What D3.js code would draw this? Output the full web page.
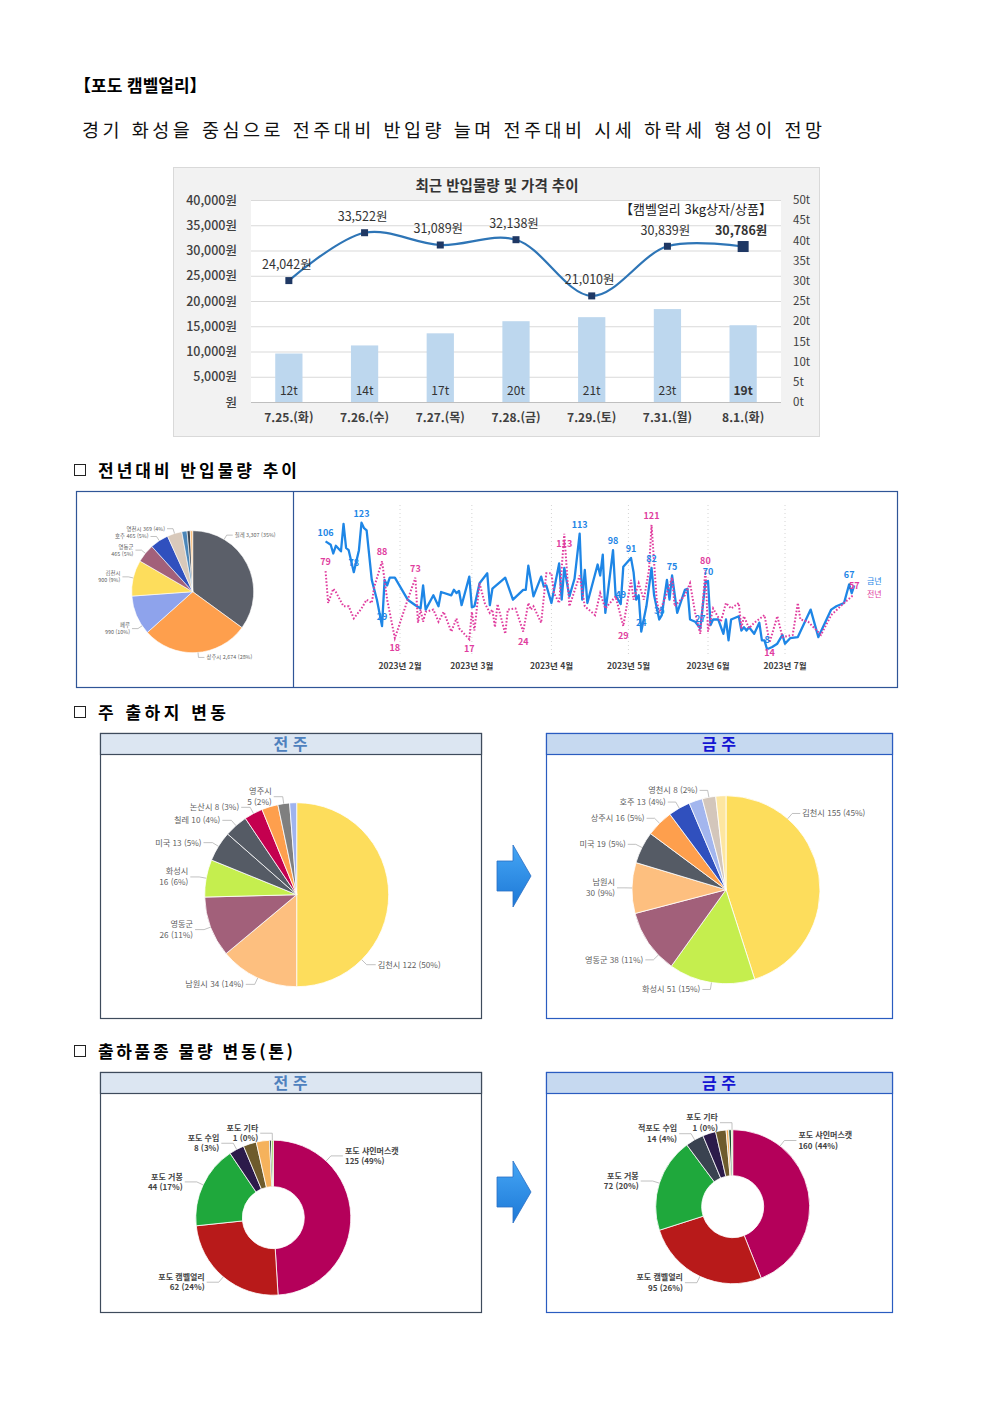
<!DOCTYPE html>
<html lang="ko">
<head>
<meta charset="utf-8">
<title>포도 캠벨얼리</title>
<script src="https://cdn.jsdelivr.net/npm/d3@7"></script>
<style>
  body { margin: 0; background: #fff; }
  svg { display: block; font-family: "Noto Sans CJK KR", "Noto Sans", sans-serif; }
</style>
</head>
<body>
<script>
// ---------- data ----------
// 최근 반입물량 및 가격 추이
const days = ["7.25.(화)", "7.26.(수)", "7.27.(목)", "7.28.(금)", "7.29.(토)", "7.31.(월)", "8.1.(화)"];
const volumes = [12, 14, 17, 20, 21, 23, 19];                        // 톤
const prices = [24042, 33522, 31089, 32138, 21010, 30839, 30786];    // 원
const priceTicks = [0, 5000, 10000, 15000, 20000, 25000, 30000, 35000, 40000];
const volumeTicks = [0, 5, 10, 15, 20, 25, 30, 35, 40, 45, 50];

// 전년대비 반입물량 - 원산지별
const yearOrigins = ["칠레", "상주시", "페루", "김천시", "영동군", "호주", "영천시", "기타1", "기타2", "기타3"];
const yearOriginValues = [3307, 2674, 990, 900, 465, 465, 369, 130, 80, 60];
const yearOriginPcts = [35, 28, 10, 9, 5, 5, 4, null, null, null];

// 전년대비 반입물량 추이 (일별, 톤)
const thisYearDates = ["01-03","01-05","01-06","01-07","01-09","01-10","01-11","01-12","01-14","01-16","01-17","01-18","01-19","01-21","01-23","01-25","01-26","01-27","01-28","01-30",
  "02-04","02-07","02-09","02-10","02-11","02-14","02-16","02-17","02-21","02-22","02-23","02-24","02-25","02-28",
  "03-01","03-02","03-04","03-07","03-08","03-09","03-13","03-14","03-17","03-21","03-22","03-23","03-25","03-28","03-29","03-30",
  "04-01","04-04","04-05","04-06","04-08","04-10","04-12","04-13","04-14","04-15","04-19","04-20","04-21","04-22","04-25","04-26","04-28","04-29",
  "05-02","05-03","05-04","05-05","05-06","05-08","05-10","05-11","05-13","05-14","05-16","05-17","05-18","05-20","05-23","05-24","05-25","05-27","05-29","05-31",
  "06-01","06-02","06-03","06-05","06-07","06-08","06-09","06-10","06-13","06-14","06-15","06-16","06-17","06-19","06-21","06-22","06-23","06-24","06-26","06-28","06-30",
  "07-01","07-03","07-06","07-11","07-14","07-19","07-21","07-24","07-26","07-27","07-28"];
const thisYearValues = [106,103,95,102,97,122,100,98,78,98,123,118,116,71,53,29,71,66,73,73,
  53,48,45,66,44,57,47,60,57,62,59,61,48,74,
  46,47,68,77,48,63,71,73,53,62,62,84,56,74,65,66,
  50,86,53,82,56,72,113,53,80,50,85,75,94,41,98,57,49,83,
  91,78,53,57,24,47,82,57,35,39,71,53,75,41,62,63,35,33,27,69,
  70,30,35,35,22,35,16,35,38,25,28,25,28,22,32,16,16,8,10,13,21,
  13,18,19,44,19,44,47,50,67,59,66];
const lastYearDates = ["01-03","01-04","01-06","01-07","01-10","01-12","01-14","01-17","01-19","01-21","01-22","01-25","01-27","01-30",
  "02-04","02-07","02-08","02-09","02-10","02-11","02-14","02-16","02-18","02-21","02-23","02-24","02-28",
  "03-01","03-02","03-04","03-06","03-08","03-09","03-10","03-11","03-14","03-15","03-18","03-21","03-23","03-24","03-25","03-28","03-30",
  "04-01","04-02","04-04","04-06","04-07","04-08","04-12","04-14","04-18","04-20","04-22","04-26","04-29",
  "05-02","05-03","05-05","05-07","05-09","05-10","05-12","05-13","05-16","05-18","05-19","05-23","05-25","05-27","05-29","05-31",
  "06-01","06-03","06-06","06-08","06-10","06-13","06-14","06-15","06-17","06-19","06-23","06-25","06-28","06-30",
  "07-04","07-06","07-07","07-10","07-15","07-19","07-24","07-27","07-28"];
const lastYearValues = [79,50,63,60,47,47,36,45,53,50,65,88,53,18,
  53,73,32,44,33,42,44,33,42,24,36,27,17,
  42,25,68,50,41,44,28,49,22,44,45,24,50,44,47,32,77,
  77,59,50,113,80,47,75,47,39,59,45,56,29,
  71,53,68,53,80,121,53,41,59,73,47,57,68,41,22,80,
  24,45,33,50,45,50,27,38,27,32,39,14,38,19,
  21,50,35,33,21,39,50,56,57];
const thisYearLabelDates = ["01-03","01-14","01-17","01-25","04-12","04-25","04-28","05-02","05-06","05-10","05-13","05-18","05-29","06-01","06-24","07-26"];
const lastYearLabelDates = ["01-03","01-25","01-30","02-07","02-28","03-21","04-06","04-29","05-10","05-31","06-25","07-28"];

// 주 출하지 변동 (톤)
const prevOrigins = ["김천시", "남원시", "영동군", "화성시", "미국", "칠레", "논산시", "기타1", "영주시", "기타2"];
const prevOriginValues = [122, 34, 26, 16, 13, 10, 8, 7, 5, 3];
const prevOriginPcts = [50, 14, 11, 6, 5, 4, 3, null, 2, null];
const curOrigins = ["김천시", "화성시", "영동군", "남원시", "미국", "상주시", "호주", "기타1", "영천시", "기타2"];
const curOriginValues = [155, 51, 38, 30, 19, 16, 13, 8, 8, 6];
const curOriginPcts = [45, 15, 11, 9, 5, 5, 4, null, 2, null];

// 출하품종 물량 변동 (톤)
const prevKinds = ["포도 샤인머스캣", "포도 캠벨얼리", "포도 거봉", "포도 수입", "기타1", "기타2", "기타3", "포도 기타"];
const prevKindValues = [125, 62, 44, 8, 7, 7, 1, 1];
const prevKindPcts = [49, 24, 17, 3, null, null, null, 0];
const curKinds = ["포도 샤인머스캣", "포도 캠벨얼리", "포도 거봉", "적포도 수입", "기타1", "기타2", "기타3", "기타4", "포도 기타"];
const curKindValues = [160, 95, 72, 14, 10, 8, 2, 2, 1];
const curKindPcts = [44, 26, 20, 4, null, null, null, null, 0];

// ---------- page ----------
const W = 992, H = 1403;
const FONT = '"Noto Sans CJK KR", "Noto Sans", sans-serif';
const svg = d3.select("body").append("svg").attr("width", W).attr("height", H);
svg.append("rect").attr("width", W).attr("height", H).attr("fill", "#fff");

svg.append("text").attr("x", 74).attr("y", 92).attr("font-size", 17).attr("font-weight", "bold")
  .text("【포도 캠벨얼리】");
svg.append("text").attr("x", 82).attr("y", 137).attr("font-size", 18.5)
  .attr("textLength", 740).attr("lengthAdjust", "spacing").attr("fill", "#111")
  .text("경기 화성을 중심으로 전주대비 반입량 늘며 전주대비 시세 하락세 형성이 전망");

function heading(y, label, len) {
  svg.append("rect").attr("x", 74.5).attr("y", y - 6.5).attr("width", 11).attr("height", 11)
    .attr("fill", "none").attr("stroke", "#222").attr("stroke-width", 1);
  svg.append("text").attr("x", 98).attr("y", y + 6).attr("font-size", 17).attr("font-weight", "bold")
    .attr("textLength", len).attr("lengthAdjust", "spacing").text(label);
}
heading(471, "전년대비 반입물량 추이", 199);
heading(713, "주 출하지 변동", 128);
heading(1052, "출하품종 물량 변동(톤)", 195);

// ---------- 최근 반입물량 및 가격 추이 ----------
const tc = svg.append("g");
tc.append("rect").attr("x", 173.5).attr("y", 167.5).attr("width", 646).attr("height", 269)
  .attr("fill", "#f2f2f2").attr("stroke", "#d9d9d9");
const P = { l: 251, r: 781, t: 200, b: 402 };
tc.append("rect").attr("x", P.l).attr("y", P.t).attr("width", P.r - P.l).attr("height", P.b - P.t).attr("fill", "#fff");

const xb = d3.scaleBand().domain(days).range([P.l, P.r]).paddingInner(0.64).paddingOuter(0.32);
const yP = d3.scaleLinear().domain([0, 40000]).range([P.b, P.t]);
const yV = d3.scaleLinear().domain([0, 50]).range([P.b, P.t]);
const cx = d => xb(d) + xb.bandwidth() / 2;

tc.append("g").selectAll("line").data(priceTicks).join("line")
  .attr("x1", P.l).attr("x2", P.r).attr("y1", d => yP(d) + 0.5).attr("y2", d => yP(d) + 0.5)
  .attr("stroke", d => d === 0 ? "#bfbfbf" : "#d9d9d9");

const axL = tc.append("g").attr("transform", `translate(${P.l},0)`)
  .call(d3.axisLeft(yP).tickValues(priceTicks).tickSize(0).tickPadding(14)
    .tickFormat(d => d === 0 ? "원" : d3.format(",")(d) + "원"));
const axR = tc.append("g").attr("transform", `translate(${P.r},0)`)
  .call(d3.axisRight(yV).tickValues(volumeTicks).tickSize(0).tickPadding(12).tickFormat(d => d + "t"));
const axB = tc.append("g").attr("transform", `translate(0,${P.b})`)
  .call(d3.axisBottom(xb).tickSize(0).tickPadding(11));
[axL, axR, axB].forEach(a => {
  a.select(".domain").remove();
  a.attr("font-family", FONT);
  a.selectAll("text").attr("fill", "#404040");
});
axL.selectAll("text").attr("font-size", 12.5).attr("font-weight", 500);
axR.selectAll("text").attr("font-size", 11.5);
axB.selectAll("text").attr("font-size", 12).attr("font-weight", 600);

tc.append("g").selectAll("rect").data(volumes).join("rect")
  .attr("x", (d, i) => xb(days[i])).attr("y", d => yV(d))
  .attr("width", xb.bandwidth()).attr("height", d => yV(0) - yV(d)).attr("fill", "#bdd7ee");
tc.append("g").selectAll("text").data(volumes).join("text")
  .attr("x", (d, i) => cx(days[i])).attr("y", yV(0) - 11).attr("dy", "0.35em")
  .attr("text-anchor", "middle").attr("font-size", 12).attr("fill", "#333")
  .attr("font-weight", (d, i) => i === volumes.length - 1 ? "bold" : "normal")
  .text(d => d + "t");

const priceLine = d3.line().x((d, i) => cx(days[i])).y(d => yP(d)).curve(d3.curveCatmullRom.alpha(0.5));
tc.append("path").datum(prices).attr("d", priceLine).attr("fill", "none")
  .attr("stroke", "#2e75b6").attr("stroke-width", 2.2);
tc.append("g").selectAll("rect").data(prices).join("rect")
  .each(function (d, i) {
    const s = i === prices.length - 1 ? 11 : 7;
    d3.select(this).attr("x", cx(days[i]) - s / 2).attr("y", yP(d) - s / 2)
      .attr("width", s).attr("height", s).attr("fill", "#1f3864");
  });
tc.append("g").selectAll("text").data(prices).join("text")
  .attr("x", (d, i) => cx(days[i]) - 2).attr("y", d => yP(d) - 16).attr("dy", "0.35em")
  .attr("text-anchor", "middle").attr("font-size", 12.5).attr("fill", "#333")
  .attr("font-weight", (d, i) => i === prices.length - 1 ? "bold" : "normal")
  .text(d => d3.format(",")(d) + "원");

tc.append("text").attr("x", 497).attr("y", 186).attr("dy", "0.35em").attr("text-anchor", "middle")
  .attr("font-size", 14.5).attr("font-weight", "bold").attr("fill", "#333").text("최근 반입물량 및 가격 추이");
tc.append("text").attr("x", 772).attr("y", 209).attr("dy", "0.35em").attr("text-anchor", "end")
  .attr("font-size", 13).attr("fill", "#222").text("【캠벨얼리 3kg상자/상품】");

// ---------- 전년대비 반입물량 추이 ----------
svg.append("rect").attr("x", 76.5).attr("y", 491.5).attr("width", 821).attr("height", 196)
  .attr("fill", "#fff").attr("stroke", "#2f5597").attr("stroke-width", 1.2);
svg.append("line").attr("x1", 293.5).attr("x2", 293.5).attr("y1", 491.5).attr("y2", 687.5)
  .attr("stroke", "#2f5597").attr("stroke-width", 1.2);

// pie / donut helper
function pieChart(o) {
  const g = svg.append("g").attr("transform", `translate(${o.cx},${o.cy})`);
  const items = o.names.map((n, i) => ({ name: n, v: o.values[i], pct: o.pcts[i], color: o.colors[i] }));
  const arcs = d3.pie().sort(null).value(d => d.v)(items);
  const arc = d3.arc().innerRadius(o.inner || 0).outerRadius(o.r);
  g.selectAll("path.slice").data(arcs).join("path").attr("class", "slice")
    .attr("d", arc).attr("fill", d => d.data.color)
    .attr("stroke", "#fff").attr("stroke-width", o.sw || 0.8);
  const fs = o.fontSize;
  arcs.forEach(a => {
    if (a.data.pct == null) return;
    const ov = o.angles && o.angles[a.data.name];
    const ang = ov != null ? ov * Math.PI / 180 : (a.startAngle + a.endAngle) / 2;
    const pt = rr => [Math.sin(ang) * rr, -Math.cos(ang) * rr];
    const p0 = pt(o.r), p1 = pt(o.r + o.e1);
    const right = Math.sin(ang) >= 0.02;
    const sgn = right ? 1 : -1;
    const p2 = [p1[0] + sgn * o.e2, p1[1]];
    g.append("path").attr("d", d3.line()([p0, p1, p2])).attr("fill", "none")
      .attr("stroke", "#a6a6a6").attr("stroke-width", 0.7);
    const tx = p2[0] + sgn * o.gap;
    const valTxt = `${o.fmt ? o.fmt(a.data.v) : a.data.v} (${a.data.pct}%)`;
    const two = o.wrapAll || (o.wrap || []).includes(a.data.name);
    const lines = two ? [a.data.name, valTxt] : [a.data.name + " " + valTxt];
    const lh = fs * 1.3;
    lines.forEach((t, k) => {
      g.append("text").attr("x", tx).attr("y", p1[1] + (k - (lines.length - 1) / 2) * lh)
        .attr("dy", "0.35em").attr("text-anchor", right ? "start" : "end")
        .attr("font-size", fs).attr("fill", o.textColor || "#5f5f5f")
        .attr("font-weight", o.bold ? "bold" : "normal").text(t);
    });
  });
}

pieChart({
  cx: 192.7, cy: 591.7, r: 61, e1: 5, e2: 6, gap: 2, fontSize: 5.4, sw: 0.6,
  names: yearOrigins, values: yearOriginValues, pcts: yearOriginPcts, fmt: d3.format(","),
  colors: ["#5b5f69", "#fe9f4d", "#8ea3ec", "#fddd5c", "#a2607a", "#3050be", "#d8c9bb", "#4a86b8", "#3b4652", "#fcc17f"],
  angles: { "칠레": 31, "상주시": 175, "페루": 236 },
  wrap: ["페루", "김천시", "영동군"]
});

// daily line chart
const parseDay = s => d3.timeParse("%Y-%m-%d")("2023-" + s);
const xT = d3.scaleTime().domain([parseDay("01-02"), parseDay("07-31")]).range([323, 862]);
const yT = d3.scaleLinear().domain([0, 130]).range([658, 515]);
const thisYear = thisYearDates.map((d, i) => ({ key: d, date: parseDay(d), v: thisYearValues[i] }));
const lastYear = lastYearDates.map((d, i) => ({ key: d, date: parseDay(d), v: lastYearValues[i] }));
const BLUE = "#1e86e6", PINK = "#e03d9e";

const months = d3.timeMonth.range(parseDay("02-01"), parseDay("07-02"));
const lc = svg.append("g");
lc.append("g").selectAll("line").data(months).join("line")
  .attr("x1", d => xT(d)).attr("x2", d => xT(d)).attr("y1", 505).attr("y2", 655)
  .attr("stroke", "#d4d4d4").attr("stroke-width", 1).attr("stroke-dasharray", "1,3");
lc.append("g").selectAll("text").data(months).join("text")
  .attr("x", d => xT(d)).attr("y", 666).attr("dy", "0.35em").attr("text-anchor", "middle")
  .attr("font-size", 8.5).attr("font-weight", "bold").attr("fill", "#404040")
  .text(d3.timeFormat("%Y년 %-m월"));

const dl = d3.line().x(d => xT(d.date)).y(d => yT(d.v));
lc.append("path").datum(thisYear).attr("d", dl).attr("fill", "none")
  .attr("stroke", BLUE).attr("stroke-width", 2.3).attr("stroke-linejoin", "round");
lc.append("path").datum(lastYear).attr("d", dl).attr("fill", "none")
  .attr("stroke", PINK).attr("stroke-width", 2).attr("stroke-dasharray", "1.6,1.8");

// labels: local minima go under the point; keys in `forceBelow` too
function pointLabels(series, keys, color, minBelow, forceBelow) {
  keys.forEach(k => {
    const i = series.findIndex(d => d.key === k);
    if (i < 0) return;
    const d = series[i];
    const prev = series[i - 1], next = series[i + 1];
    const isMin = minBelow && (!prev || d.v < prev.v) && (!next || d.v < next.v);
    const below = isMin || (forceBelow || []).includes(k);
    lc.append("text").attr("x", xT(d.date)).attr("y", yT(d.v) + (below ? 10 : -9)).attr("dy", "0.35em")
      .attr("text-anchor", "middle").attr("font-size", 9).attr("font-weight", "bold")
      .attr("fill", color).text(d.v);
  });
}
pointLabels(lastYear, lastYearLabelDates, PINK, true, ["04-06"]);
pointLabels(thisYear, thisYearLabelDates, BLUE, false);

lc.append("text").attr("x", 867).attr("y", 581).attr("dy", "0.35em").attr("font-size", 8).attr("fill", BLUE).text("금년");
lc.append("text").attr("x", 867).attr("y", 594).attr("dy", "0.35em").attr("font-size", 8).attr("fill", PINK).text("전년");

// ---------- panels ----------
const defs = svg.append("defs");
const grad = defs.append("linearGradient").attr("id", "arrowGrad").attr("x1", 0).attr("x2", 0).attr("y1", 0).attr("y2", 1);
grad.append("stop").attr("offset", "0%").attr("stop-color", "#45a6f5");
grad.append("stop").attr("offset", "100%").attr("stop-color", "#1d78d6");

function panel(x, y, w, h, title, border, headFill, titleColor) {
  svg.append("rect").attr("x", x + 0.5).attr("y", y + 0.5).attr("width", w).attr("height", h)
    .attr("fill", "#fff").attr("stroke", border).attr("stroke-width", 1.2);
  svg.append("rect").attr("x", x + 0.5).attr("y", y + 0.5).attr("width", w).attr("height", 21)
    .attr("fill", headFill).attr("stroke", border).attr("stroke-width", 1.2);
  svg.append("text").attr("x", x + w / 2).attr("y", y + 11.5).attr("dy", "0.36em").attr("text-anchor", "middle")
    .attr("font-size", 16).attr("font-weight", "bold").attr("fill", titleColor).text(title);
}
function arrow(x, cyA) {
  svg.append("path")
    .attr("d", d3.line()([[x, cyA - 15], [x + 16, cyA - 15], [x + 16, cyA - 31], [x + 34, cyA],
      [x + 16, cyA + 31], [x + 16, cyA + 15], [x, cyA + 15]]) + "Z")
    .attr("fill", "url(#arrowGrad)").attr("stroke", "#2a6fc4").attr("stroke-width", 0.8);
}

panel(100, 733, 381, 285, "전 주", "#3e4b5c", "#dce6f2", "#4f81bd");
panel(546, 733, 346, 285, "금 주", "#2a5cc0", "#c6d9f0", "#1414d2");
panel(100, 1072, 381, 240, "전 주", "#3e4b5c", "#dce6f2", "#4f81bd");
panel(546, 1072, 346, 240, "금 주", "#2a5cc0", "#c6d9f0", "#1414d2");
arrow(497, 876);
arrow(497, 1192);

// 주 출하지 변동
pieChart({
  cx: 296.7, cy: 894.7, r: 92, e1: 7, e2: 9, gap: 2, fontSize: 8.2,
  names: prevOrigins, values: prevOriginValues, pcts: prevOriginPcts,
  colors: ["#fddd5c", "#fdbf7f", "#a2607a", "#c5ee4e", "#555b65", "#555b65", "#c4004f", "#fe9f4d", "#7f7f7f", "#9fb3ef"],
  angles: { "김천시": 135 },
  wrap: ["영동군", "화성시", "영주시"]
});
pieChart({
  cx: 726, cy: 889.7, r: 94, e1: 7, e2: 8, gap: 2, fontSize: 8.2,
  names: curOrigins, values: curOriginValues, pcts: curOriginPcts,
  colors: ["#fddd5c", "#c5ee4e", "#a2607a", "#fdbf7f", "#555b65", "#fe9f4d", "#3050be", "#a3b6ee", "#d3c6bb", "#fde6a0"],
  angles: { "김천시": 41, "영동군": 226 },
  wrap: ["남원시"]
});

// 출하품종 물량 변동
pieChart({
  cx: 273.3, cy: 1217.7, r: 77.5, inner: 31, e1: 7, e2: 12, gap: 2, fontSize: 8, bold: true, textColor: "#444",
  names: prevKinds, values: prevKindValues, pcts: prevKindPcts, wrapAll: true,
  colors: ["#b4005a", "#b81a1a", "#1fa83c", "#2c1b4a", "#6e5b2c", "#f5b25c", "#1f2f2f", "#8fd14f"],
  angles: { "포도 샤인머스캣": 43 }
});
pieChart({
  cx: 732.7, cy: 1206.7, r: 77, inner: 31, e1: 7, e2: 12, gap: 2, fontSize: 8, bold: true, textColor: "#444",
  names: curKinds, values: curKindValues, pcts: curKindPcts, wrapAll: true,
  colors: ["#b4005a", "#b81a1a", "#1fa83c", "#3a4250", "#2c1b4a", "#6e5b2c", "#f5b25c", "#1a4a2a", "#8fd14f"],
  angles: { "포도 샤인머스캣": 38 }
});
</script>
</body>
</html>
